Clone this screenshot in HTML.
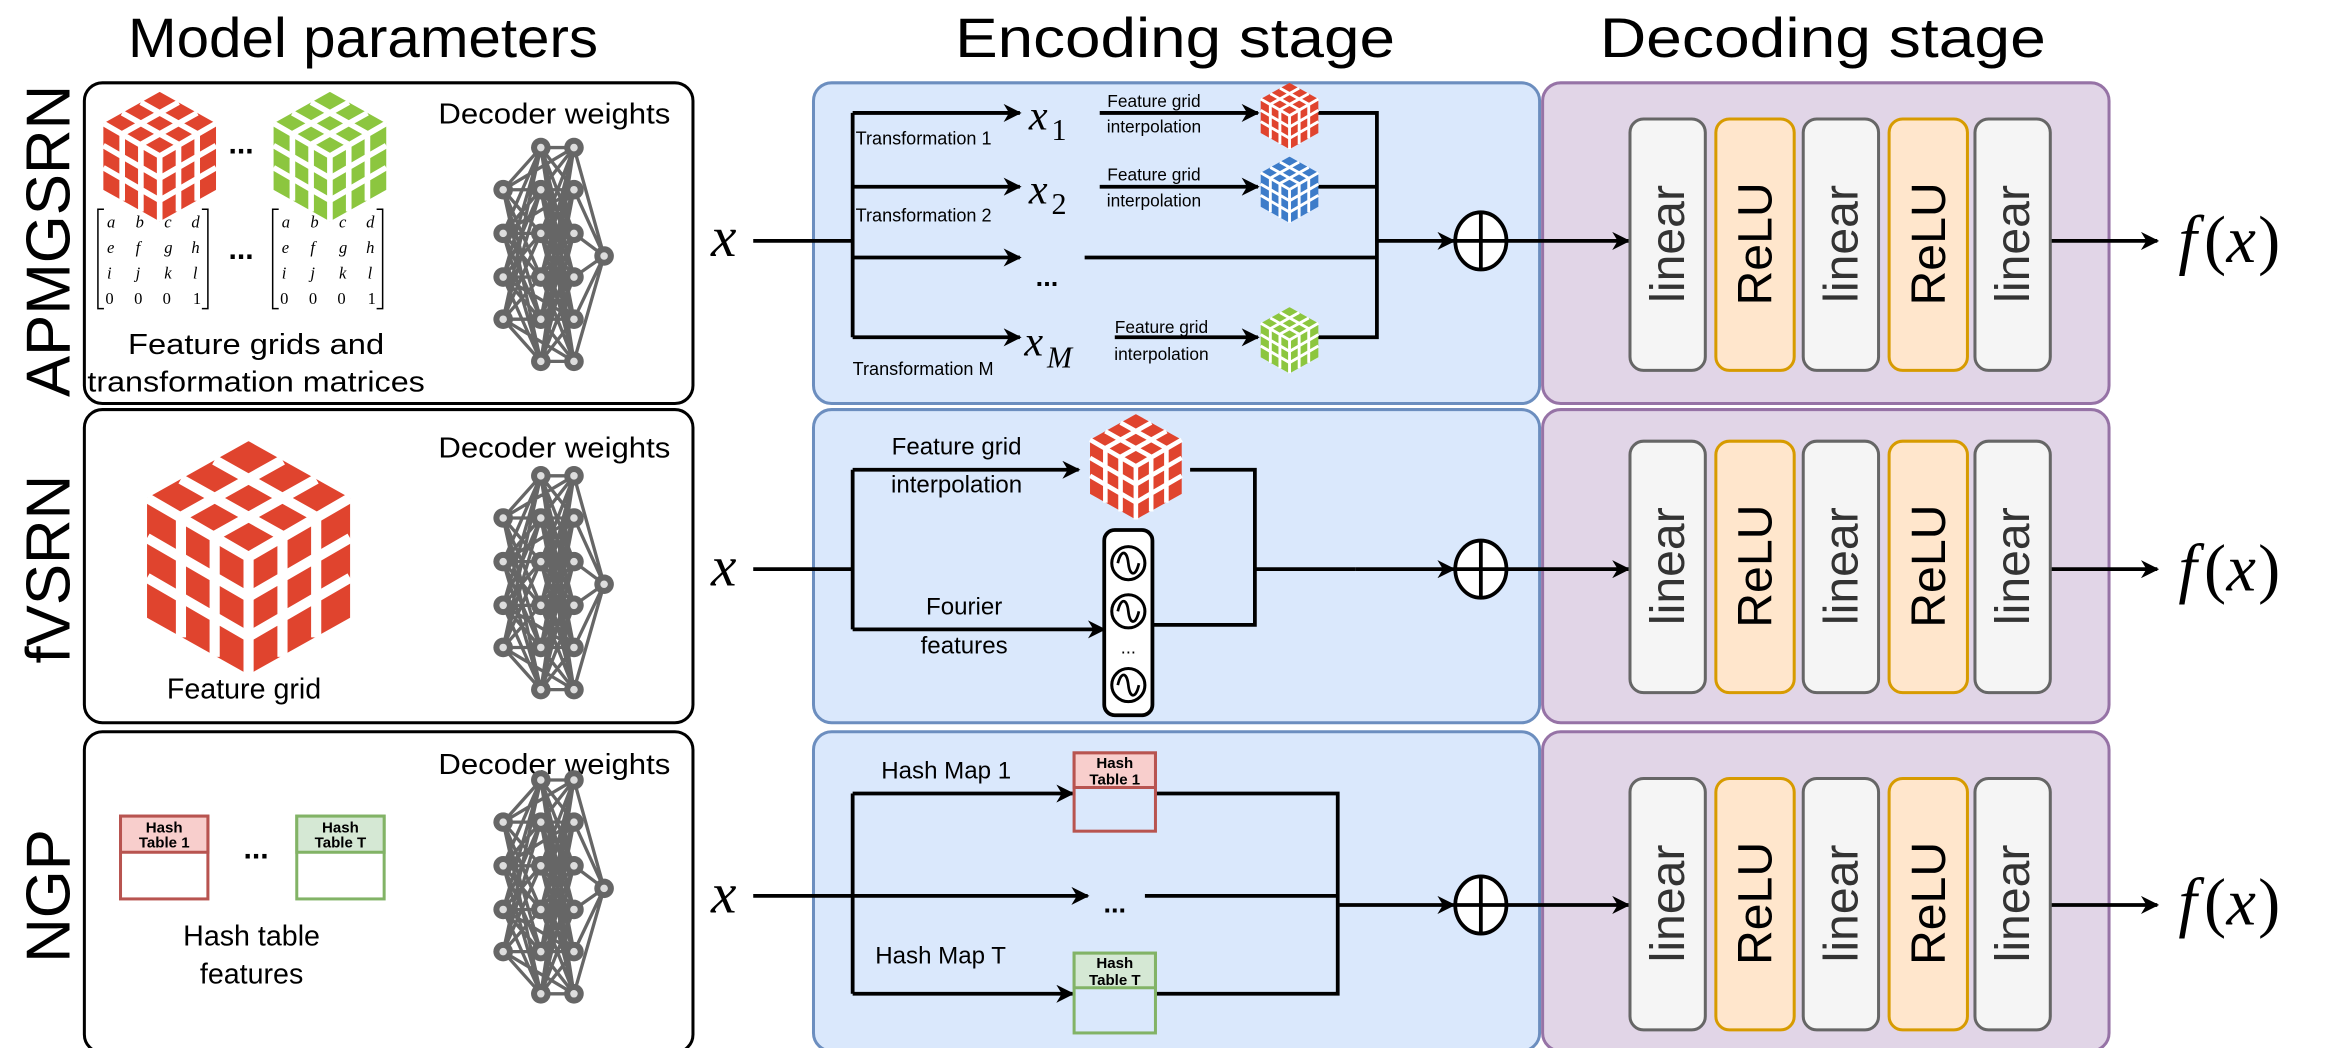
<!DOCTYPE html>
<html><head><meta charset="utf-8"><style>
html,body{margin:0;padding:0;background:#fff;}
svg{display:block;}
.t{font-family:"Liberation Sans",Arial,sans-serif;}
.m{font-family:"Liberation Serif",serif;font-style:italic;}
</style></head><body>
<svg width="2332" height="1048" viewBox="0 0 1548 696" preserveAspectRatio="none" xmlns="http://www.w3.org/2000/svg">
<defs>
<marker id="ab" viewBox="0 0 10 10" refX="9" refY="5" markerWidth="12" markerHeight="12" orient="auto" markerUnits="userSpaceOnUse">
<path d="M0,0 L10,5 L0,10 L3,5 Z" fill="#000"/></marker>
<symbol id="cube" viewBox="0 0 100 115">
<g fill="currentColor"><polygon points="50,0 100,28 100,87 50,115 0,87 0,28"/></g>
<g stroke="#fff" stroke-width="5" fill="none">
<path d="M0,28 L50,57 L100,28 M50,57 L50,115"/>
<path d="M33.3,9.3 L83.3,37.3 M16.7,18.7 L66.7,46.7 M66.7,9.3 L16.7,37.3 M83.3,18.7 L33.3,46.7"/>
<path d="M16.7,37.7 L16.7,96.7 M33.3,47.3 L33.3,106.3 M0,47.7 L50,76.7 M0,67.3 L50,96.3"/>
<path d="M66.7,47.3 L66.7,106.3 M83.3,37.7 L83.3,96.7 M50,76.7 L100,47.7 M50,96.3 L100,67.3"/>
</g></symbol>
<g id="net">
<path stroke="#666" stroke-width="2.2" fill="none" d="
M334 126L359 98M334 126L359 126M334 126L359 155M334 126L359 184M334 126L359 212M334 126L359 240
M334 155L359 98M334 155L359 126M334 155L359 155M334 155L359 184M334 155L359 212M334 155L359 240
M334 184L359 98M334 184L359 126M334 184L359 155M334 184L359 184M334 184L359 212M334 184L359 240
M334 212L359 98M334 212L359 126M334 212L359 155M334 212L359 184M334 212L359 212M334 212L359 240
M359 98L381 98M359 98L381 126M359 98L381 155M359 98L381 184M359 98L381 212M359 98L381 240
M359 126L381 98M359 126L381 126M359 126L381 155M359 126L381 184M359 126L381 212M359 126L381 240
M359 155L381 98M359 155L381 126M359 155L381 155M359 155L381 184M359 155L381 212M359 155L381 240
M359 184L381 98M359 184L381 126M359 184L381 155M359 184L381 184M359 184L381 212M359 184L381 240
M359 212L381 98M359 212L381 126M359 212L381 155M359 212L381 184M359 212L381 212M359 212L381 240
M359 240L381 98M359 240L381 126M359 240L381 155M359 240L381 184M359 240L381 212M359 240L381 240
M381 98L401 170M381 126L401 170M381 155L401 170M381 184L401 170M381 212L401 170M381 240L401 170
M334 126L381 98M334 212L381 240M334 155L381 126M334 184L381 212"/>
<g fill="#666">
<circle cx="334" cy="126" r="6.5"/><circle cx="334" cy="155" r="6.5"/><circle cx="334" cy="184" r="6.5"/><circle cx="334" cy="212" r="6.5"/>
<circle cx="359" cy="98" r="6.5"/><circle cx="359" cy="126" r="6.5"/><circle cx="359" cy="155" r="6.5"/><circle cx="359" cy="184" r="6.5"/><circle cx="359" cy="212" r="6.5"/><circle cx="359" cy="240" r="6.5"/>
<circle cx="381" cy="98" r="6.5"/><circle cx="381" cy="126" r="6.5"/><circle cx="381" cy="155" r="6.5"/><circle cx="381" cy="184" r="6.5"/><circle cx="381" cy="212" r="6.5"/><circle cx="381" cy="240" r="6.5"/>
<circle cx="401" cy="170" r="6.5"/></g>
<g fill="#ddd">
<circle cx="334" cy="126" r="2.5"/><circle cx="334" cy="155" r="2.5"/><circle cx="334" cy="184" r="2.5"/><circle cx="334" cy="212" r="2.5"/>
<circle cx="359" cy="98" r="2.5"/><circle cx="359" cy="126" r="2.5"/><circle cx="359" cy="155" r="2.5"/><circle cx="359" cy="184" r="2.5"/><circle cx="359" cy="212" r="2.5"/><circle cx="359" cy="240" r="2.5"/>
<circle cx="381" cy="98" r="2.5"/><circle cx="381" cy="126" r="2.5"/><circle cx="381" cy="155" r="2.5"/><circle cx="381" cy="184" r="2.5"/><circle cx="381" cy="212" r="2.5"/><circle cx="381" cy="240" r="2.5"/>
<circle cx="401" cy="170" r="2.5"/></g>
</g>
<g id="mat" class="m" font-size="11">
<path d="M4,0 L0,0 L0,66 L4,66 M69,0 L73,0 L73,66 L69,66" stroke="#000" stroke-width="1" fill="none"/>
<text x="6" y="12">a</text><text x="25" y="12">b</text><text x="44" y="12">c</text><text x="62" y="12">d</text>
<text x="6" y="29">e</text><text x="25" y="29">f</text><text x="44" y="29">g</text><text x="62" y="29">h</text>
<text x="6" y="46">i</text><text x="25" y="46">j</text><text x="44" y="46">k</text><text x="63" y="46">l</text>
<text x="5" y="63" style="font-style:normal">0</text><text x="24" y="63" style="font-style:normal">0</text><text x="43" y="63" style="font-style:normal">0</text><text x="63" y="63" style="font-style:normal">1</text>
</g>
<g id="dec">
<rect x="1082" y="0" width="50" height="167" rx="9" fill="#f5f5f5" stroke="#666" stroke-width="2"/>
<rect x="1139" y="0" width="52" height="167" rx="9" fill="#ffe6cc" stroke="#d79b00" stroke-width="2"/>
<rect x="1197" y="0" width="50" height="167" rx="9" fill="#f5f5f5" stroke="#666" stroke-width="2"/>
<rect x="1254" y="0" width="52" height="167" rx="9" fill="#ffe6cc" stroke="#d79b00" stroke-width="2"/>
<rect x="1311" y="0" width="50" height="167" rx="9" fill="#f5f5f5" stroke="#666" stroke-width="2"/>
<g class="t" font-size="32" text-anchor="middle">
<text transform="translate(1118,83) rotate(-90)" fill="#333">linear</text>
<text transform="translate(1176,83) rotate(-90)">ReLU</text>
<text transform="translate(1233,83) rotate(-90)" fill="#333">linear</text>
<text transform="translate(1291,83) rotate(-90)">ReLU</text>
<text transform="translate(1347,83) rotate(-90)" fill="#333">linear</text>
</g></g>
<g id="oplus"><ellipse cx="0" cy="0" rx="17" ry="19" fill="#fff" stroke="#000" stroke-width="2.5"/><path d="M-17,0 L17,0 M0,-19 L0,19" stroke="#000" stroke-width="2.5"/></g>
<g id="wave"><circle r="11" fill="#fff" stroke="#000" stroke-width="2"/><path d="M-7,0 C-5,-9 -1,-9 0,0 S5,9 7,0" fill="none" stroke="#000" stroke-width="1.8"/></g>
<g id="fx" font-family="Liberation Serif,serif" font-size="44"><text x="0" y="0" font-style="italic">f</text><text x="17" y="0">(</text><text x="32" y="0" font-style="italic">x</text><text x="53" y="0">)</text></g>
</defs>

<g class="t" font-size="37" text-anchor="middle">
<text x="241" y="38" textLength="312" lengthAdjust="spacingAndGlyphs">Model parameters</text>
<text x="780" y="38" textLength="292" lengthAdjust="spacingAndGlyphs">Encoding stage</text>
<text x="1210" y="38" textLength="296" lengthAdjust="spacingAndGlyphs">Decoding stage</text>
</g>
<g class="t" font-size="41" text-anchor="middle">
<text transform="translate(46,160) rotate(-90)">APMGSRN</text>
<text transform="translate(46,378) rotate(-90)">fVSRN</text>
<text transform="translate(46,595) rotate(-90)">NGP</text>
</g>

<g fill="#fff" stroke="#000" stroke-width="2">
<rect x="56" y="55" width="404" height="213" rx="12"/>
<rect x="56" y="272" width="404" height="208" rx="12"/>
<rect x="56" y="486" width="404" height="213" rx="12"/>
</g>
<g fill="#dae8fc" stroke="#6c8ebf" stroke-width="2">
<rect x="540" y="55" width="482" height="213" rx="12"/>
<rect x="540" y="272" width="482" height="208" rx="12"/>
<rect x="540" y="486" width="482" height="212" rx="12"/>
</g>
<g fill="#e1d5e7" stroke="#9673a6" stroke-width="2">
<rect x="1024" y="55" width="376" height="213" rx="12"/>
<rect x="1024" y="272" width="376" height="208" rx="12"/>
<rect x="1024" y="486" width="376" height="212" rx="12"/>
</g>

<use href="#cube" x="68" y="61" width="76" height="86" style="color:#e0442e"/>
<use href="#cube" x="181" y="61" width="76" height="86" style="color:#8cc63f"/>
<text class="t" x="160" y="102" font-size="20" text-anchor="middle" font-weight="bold">...</text>
<use href="#mat" transform="translate(65,139)"/>
<use href="#mat" transform="translate(181,139)"/>
<text class="t" x="160" y="172" font-size="20" text-anchor="middle" font-weight="bold">...</text>
<g class="t" font-size="19" text-anchor="middle">
<text x="170" y="235" textLength="170" lengthAdjust="spacingAndGlyphs">Feature grids and</text>
<text x="170" y="260" textLength="224" lengthAdjust="spacingAndGlyphs">transformation matrices</text>
<text x="368" y="82" textLength="154" lengthAdjust="spacingAndGlyphs">Decoder weights</text>
<text x="368" y="304" textLength="154" lengthAdjust="spacingAndGlyphs">Decoder weights</text>
<text x="368" y="514" textLength="154" lengthAdjust="spacingAndGlyphs">Decoder weights</text>
<text x="162" y="464">Feature grid</text>
<text x="167" y="628">Hash table</text>
<text x="167" y="653">features</text>
</g>
<use href="#net"/>
<use href="#net" transform="translate(0,218)"/>
<use href="#net" transform="translate(0,420)"/>
<use href="#cube" x="95" y="293" width="140" height="155" style="color:#e0442e"/>
<rect x="80" y="542" width="58" height="55" fill="#fff" stroke="#b85450" stroke-width="2"/>
<rect x="80" y="542" width="58" height="24" fill="#f8cecc" stroke="#b85450" stroke-width="2"/>
<rect x="197" y="542" width="58" height="55" fill="#fff" stroke="#82b366" stroke-width="2"/>
<rect x="197" y="542" width="58" height="24" fill="#d5e8d4" stroke="#82b366" stroke-width="2"/>
<g class="t" font-size="10" font-weight="bold" text-anchor="middle">
<text x="109" y="553">Hash</text><text x="109" y="563">Table 1</text>
<text x="226" y="553">Hash</text><text x="226" y="563">Table T</text>
</g>
<text class="t" x="170" y="570" font-size="20" text-anchor="middle" font-weight="bold">...</text>

<g class="m" font-size="38">
<text x="472" y="170">x</text><text x="472" y="389">x</text><text x="472" y="606">x</text>
</g>
<use href="#fx" transform="translate(1446,174)"/>
<use href="#fx" transform="translate(1446,392)"/>
<use href="#fx" transform="translate(1446,614)"/>

<g stroke="#000" stroke-width="2.5" fill="none">
<path d="M500,160 L566,160 M566,75 L566,224"/>
<path d="M566,75 L677,75" marker-end="url(#ab)"/>
<path d="M566,124 L677,124" marker-end="url(#ab)"/>
<path d="M566,171 L677,171" marker-end="url(#ab)"/>
<path d="M566,224 L677,224" marker-end="url(#ab)"/>
<path d="M730,75 L835,75" marker-end="url(#ab)"/>
<path d="M730,124 L835,124" marker-end="url(#ab)"/>
<path d="M740,224 L835,224" marker-end="url(#ab)"/>
<path d="M875,75 L914,75 L914,224 L875,224 M875,124 L914,124 M720,171 L914,171"/>
<path d="M914,160 L965,160" marker-end="url(#ab)"/>
<path d="M1001,160 L1081,160" marker-end="url(#ab)"/>
<path d="M1361,160 L1432,160" marker-end="url(#ab)"/>
</g>
<use href="#cube" x="836" y="55" width="40" height="44" style="color:#e0442e"/>
<use href="#cube" x="836" y="104" width="40" height="44" style="color:#3d7cc9"/>
<use href="#cube" x="836" y="204" width="40" height="44" style="color:#8cc63f"/>
<g class="m" font-size="28">
<text x="683" y="86">x</text><text x="698" y="93" font-size="20" style="font-style:normal">1</text>
<text x="683" y="135">x</text><text x="698" y="142" font-size="20" style="font-style:normal">2</text>
<text x="680" y="236">x</text><text x="695" y="244" font-size="20">M</text>
</g>
<text class="t" x="695" y="190" font-size="18" font-weight="bold" text-anchor="middle">...</text>
<g class="t" font-size="11.5" text-anchor="middle">
<text x="766" y="71">Feature grid</text><text x="766" y="88">interpolation</text>
<text x="766" y="120">Feature grid</text><text x="766" y="137">interpolation</text>
<text x="771" y="221">Feature grid</text><text x="771" y="239">interpolation</text>
</g>
<g class="t" font-size="12">
<text x="568" y="96">Transformation 1</text>
<text x="568" y="147">Transformation 2</text>
<text x="566" y="249">Transformation M</text>
</g>
<use href="#oplus" transform="translate(983,160)"/>
<use href="#dec" transform="translate(0,79)"/>

<g stroke="#000" stroke-width="2.5" fill="none">
<path d="M500,378 L566,378 M566,312 L566,418"/>
<path d="M566,312 L716,312" marker-end="url(#ab)"/>
<path d="M566,418 L733,418" marker-end="url(#ab)"/>
<path d="M790,312 L833,312 L833,415 L765,415 M833,378 L900,378" />
<path d="M900,378 L965,378" marker-end="url(#ab)"/>
<path d="M1001,378 L1081,378" marker-end="url(#ab)"/>
<path d="M1361,378 L1432,378" marker-end="url(#ab)"/>
</g>
<use href="#cube" x="717" y="275" width="74" height="70" style="color:#e0442e"/>
<rect x="733" y="352" width="32" height="123" rx="7" fill="#fff" stroke="#000" stroke-width="2.5"/>
<use href="#wave" transform="translate(749,374)"/>
<use href="#wave" transform="translate(749,406)"/>
<use href="#wave" transform="translate(749,455)"/>
<text class="t" x="749" y="434" font-size="12" text-anchor="middle">...</text>
<g class="t" font-size="16" text-anchor="middle">
<text x="635" y="302">Feature grid</text><text x="635" y="327">interpolation</text>
<text x="640" y="408">Fourier</text><text x="640" y="434">features</text>
</g>
<use href="#oplus" transform="translate(983,378)"/>
<use href="#dec" transform="translate(0,293)"/>

<g stroke="#000" stroke-width="2.5" fill="none">
<path d="M500,595 L566,595 M566,527 L566,660"/>
<path d="M566,527 L712,527" marker-end="url(#ab)"/>
<path d="M566,595 L722,595" marker-end="url(#ab)"/>
<path d="M566,660 L712,660" marker-end="url(#ab)"/>
<path d="M767,527 L888,527 L888,660 L767,660 M760,595 L888,595"/>
<path d="M888,601 L965,601" marker-end="url(#ab)"/>
<path d="M1001,601 L1081,601" marker-end="url(#ab)"/>
<path d="M1361,601 L1432,601" marker-end="url(#ab)"/>
</g>
<rect x="713" y="500" width="54" height="52" fill="#dae8fc" stroke="#b85450" stroke-width="2"/>
<rect x="713" y="500" width="54" height="23" fill="#f8cecc" stroke="#b85450" stroke-width="2"/>
<rect x="713" y="633" width="54" height="53" fill="#dae8fc" stroke="#82b366" stroke-width="2"/>
<rect x="713" y="633" width="54" height="23" fill="#d5e8d4" stroke="#82b366" stroke-width="2"/>
<g class="t" font-size="10" font-weight="bold" text-anchor="middle">
<text x="740" y="510">Hash</text><text x="740" y="521">Table 1</text>
<text x="740" y="643">Hash</text><text x="740" y="654">Table T</text>
</g>
<text class="t" x="740" y="606" font-size="18" font-weight="bold" text-anchor="middle">...</text>
<g class="t" font-size="16">
<text x="585" y="517">Hash Map 1</text>
<text x="581" y="640">Hash Map T</text>
</g>
<use href="#oplus" transform="translate(983,601)"/>
<use href="#dec" transform="translate(0,517)"/>
</svg>
</body></html>
